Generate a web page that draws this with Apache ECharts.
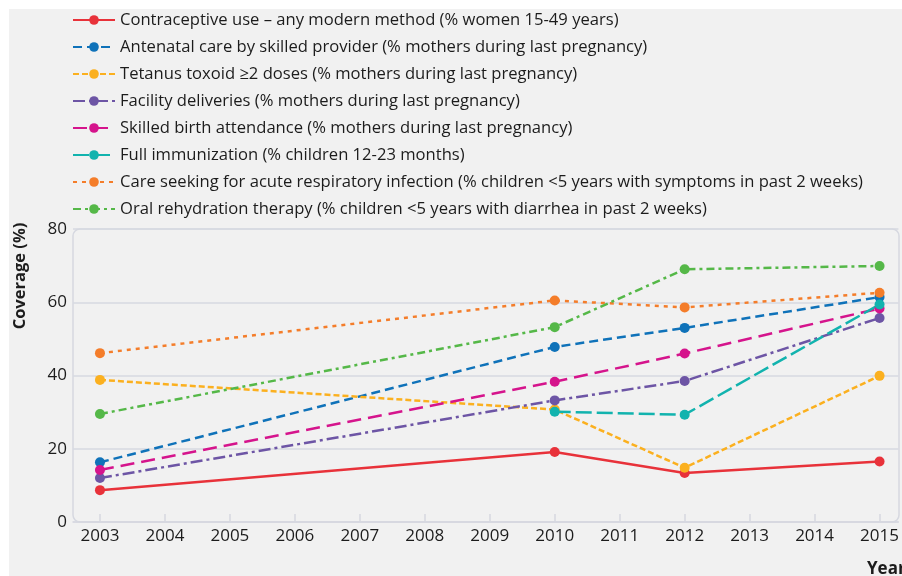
<!DOCTYPE html>
<html>
<head>
<meta charset="utf-8">
<script src="https://cdn.jsdelivr.net/npm/echarts@6/dist/echarts.min.js"></script>
<style>
  body { margin: 0; background: #ffffff; }
  #panel { position: absolute; left: 9px; top: 9px; width: 893px; height: 567px; background: #f1f1f1; }
  #main { position: absolute; left: 0; top: 0; width: 902px; height: 576px; }
</style>
</head>
<body>
<div id="panel"></div>
<div id="main"></div>
<script>
// survey years
const years = [2003, 2010, 2012, 2015];
const yearTicks = [2003, 2004, 2005, 2006, 2007, 2008, 2009, 2010, 2011, 2012, 2013, 2014, 2015];

// coverage values (%) per survey year, null = not measured
const contraceptive = [8.7, 19.1, 13.4, 16.5];
const antenatal = [16.3, 47.8, 53.0, 61.4];
const tetanus = [38.8, 30.7, 14.8, 39.9];
const facility = [12.0, 33.2, 38.5, 55.7];
const skilledBirth = [14.2, 38.3, 46.0, 58.3];
const immunization = [null, 30.1, 29.3, 59.4];
const careSeeking = [46.1, 60.5, 58.6, 62.6];
const oralRehydration = [29.5, 53.2, 69.0, 69.9];

const seriesDefs = [
  { name: 'Contraceptive use \u2013 any modern method (% women 15-49 years)', values: contraceptive, color: '#e8323a', dash: 'solid' },
  { name: 'Antenatal care by skilled provider (% mothers during last pregnancy)', values: antenatal, color: '#0f72b9', dash: [9, 5] },
  { name: 'Tetanus toxoid \u22652 doses (% mothers during last pregnancy)', values: tetanus, color: '#fbb01f', dash: [6, 3] },
  { name: 'Facility deliveries (% mothers during last pregnancy)', values: facility, color: '#6d55a5', dash: [12, 4, 3, 4] },
  { name: 'Skilled birth attendance (% mothers during last pregnancy)', values: skilledBirth, color: '#d5148c', dash: [14, 7] },
  { name: 'Full immunization (% children 12-23 months)', values: immunization, color: '#12b3ae', dash: [16, 5] },
  { name: 'Care seeking for acute respiratory infection (% children <5 years with symptoms in past 2 weeks)', values: careSeeking, color: '#f47d2a', dash: [4, 5] },
  { name: 'Oral rehydration therapy (% children <5 years with diarrhea in past 2 weeks)', values: oralRehydration, color: '#55b848', dash: [8, 4, 3, 4] }
];

const textColor = '#1c1c1c';
const lineGray = '#d6d8e0';
const font = 'Open Sans';

let chart = echarts.init(document.getElementById('main'), null, { renderer: 'canvas' });

let option = {
  backgroundColor: 'transparent',
  animation: false,
  textStyle: { fontFamily: font },
  legend: {
    orient: 'vertical',
    left: 72,
    top: 11,
    padding: 0,
    itemWidth: 42,
    itemHeight: 12,
    itemGap: 9,
    textStyle: { fontSize: 16.6, color: textColor, fontFamily: font, lineHeight: 18 },
    data: seriesDefs.map(s => s.name)
  },
  grid: {
    left: 73,
    right: 3,
    top: 229,
    bottom: 54
  },
  xAxis: {
    type: 'value',
    min: 2002.585,
    max: 2015.29,
    axisLine: { show: true, lineStyle: { color: lineGray, width: 1.5 } },
    axisTick: { show: true, inside: true, length: 8, customValues: yearTicks, lineStyle: { color: lineGray, width: 1.5 } },
    axisLabel: { customValues: yearTicks, formatter: v => String(v), fontSize: 17, color: textColor, margin: 6, fontFamily: font },
    splitLine: { show: false }
  },
  yAxis: {
    type: 'value',
    min: 0,
    max: 80,
    interval: 20,
    axisLine: { show: false },
    axisTick: { show: false },
    axisLabel: { fontSize: 17, color: textColor, margin: 6, fontFamily: font },
    splitLine: { show: true, lineStyle: { color: lineGray, width: 1.5 } }
  },
  graphic: [
    {
      type: 'rect',
      z: 0,
      silent: true,
      shape: { x: 73, y: 229, width: 826, height: 293, r: 7 },
      style: { fill: 'none', stroke: lineGray, lineWidth: 1.5 }
    },
    {
      type: 'text',
      x: 20,
      y: 276,
      rotation: Math.PI / 2,
      style: { text: 'Coverage (%)', fontSize: 16.5, fontWeight: 'bold', fontFamily: font, fill: textColor, align: 'center', verticalAlign: 'middle' }
    },
    {
      type: 'text',
      x: 867,
      y: 569,
      style: { text: 'Year', fontSize: 17, fontWeight: 'bold', fontFamily: font, fill: textColor, align: 'left', verticalAlign: 'middle' }
    }
  ],
  series: seriesDefs.map(s => ({
    name: s.name,
    type: 'line',
    symbol: 'circle',
    symbolSize: 10,
    color: s.color,
    lineStyle: { width: 2.5, type: s.dash, color: s.color },
    itemStyle: { color: s.color },
    connectNulls: false,
    data: years.map((y, i) => s.values[i] === null ? null : [y, s.values[i]]).filter(d => d !== null)
  }))
};

if (option && typeof option === 'object') {
  chart.setOption(option);
}
window.addEventListener('resize', chart.resize);
</script>
</body>
</html>
